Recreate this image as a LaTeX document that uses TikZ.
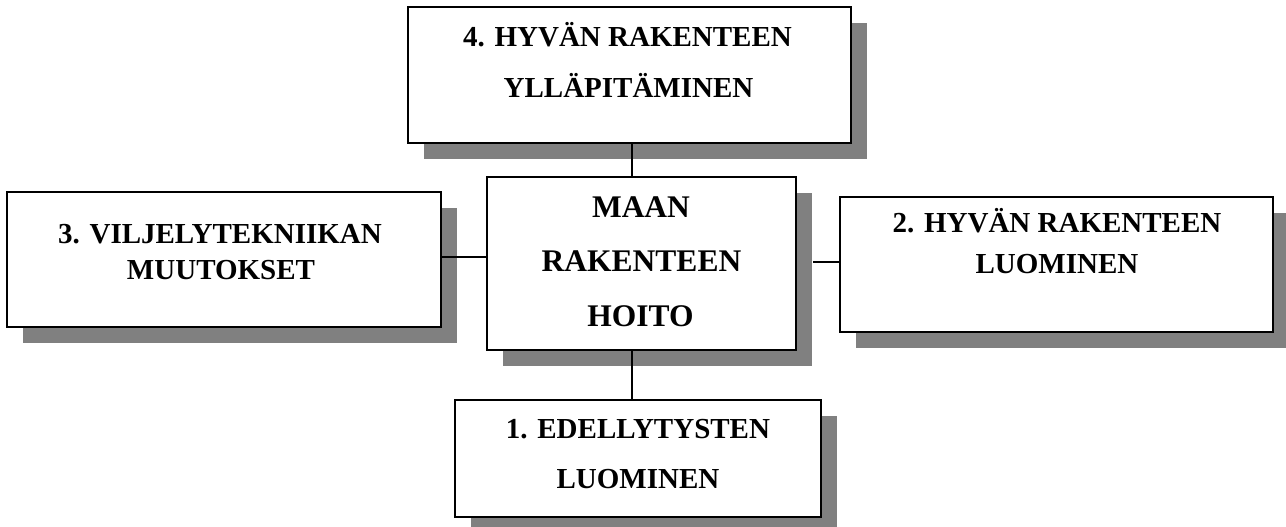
\documentclass[tikz,border=0pt]{standalone}
\usepackage{fontspec}
\setmainfont{Liberation Serif}
\usetikzlibrary{shadows,calc}
\definecolor{shadowgray}{HTML}{808080}
\tikzset{
  box/.style={draw=black, line width=2.5pt, fill=white, inner sep=0pt,
    drop shadow={shadow xshift=15.5pt, shadow yshift=-16pt, opacity=1, fill=shadowgray}},
  line/.style={anchor=base, inner sep=0pt, font=\fontsize{29}{29}\selectfont\bfseries},
  cline/.style={anchor=base, inner sep=0pt, font=\fontsize{31.5}{31.5}\selectfont\bfseries},
  link/.style={draw=black, line width=2pt}
}
\begin{document}
\begin{tikzpicture}[x=1pt, y=-1pt]
\useasboundingbox (0,0) rectangle (1286,527);

% boxes
\node[box, minimum width=443pt, minimum height=136pt] (b4) at (629.5,75) {};
\node[box, minimum width=434pt, minimum height=135pt] (b3) at (224,259.5) {};
\node[box, minimum width=433pt, minimum height=135pt] (b2) at (1056.5,264.5) {};
\node[box, minimum width=366pt, minimum height=117pt] (b1) at (638,458.5) {};
\node[box, minimum width=309pt, minimum height=173pt] (c) at (641.5,263.5) {};

% connectors
\coordinate (cr) at ($(c.east)+(16,0)$);
\coordinate (b2w) at ([yshift=2.5pt]b2.west);
\draw[link] ([xshift=2.5pt]b4.south) -- ([xshift=2.5pt]b4.south |- c.north);
\draw[link] ([xshift=-6pt]b1.north) -- ([xshift=-6pt]b1.north |- c.south);
\draw[link] ([yshift=2.5pt]b3.east) -- ([yshift=2.5pt]b3.east -| c.west);
\draw[link] (b2w) -- (b2w -| cr);

% labels
\node[line] (t4a) at (627.5,47) {4. HYVÄN RAKENTEEN};
\node[line] (t4b) at (628.5,97) {YLLÄPITÄMINEN};
\node[line] (t3a) at (220,243) {3. VILJELYTEKNIIKAN};
\node[line] (t3b) at (221,279) {MUUTOKSET};
\node[line] (t2a) at (1057,232) {2. HYVÄN RAKENTEEN};
\node[line] (t2b) at (1057,273) {LUOMINEN};
\node[line] (t1a) at (638,438) {1. EDELLYTYSTEN};
\node[line] (t1b) at (638,488) {LUOMINEN};
\node[cline] (tca) at (641,217) {MAAN};
\node[cline] (tcb) at (641.5,271) {RAKENTEEN};
\node[cline] (tcc) at (640.5,326) {HOITO};
\end{tikzpicture}
\end{document}
